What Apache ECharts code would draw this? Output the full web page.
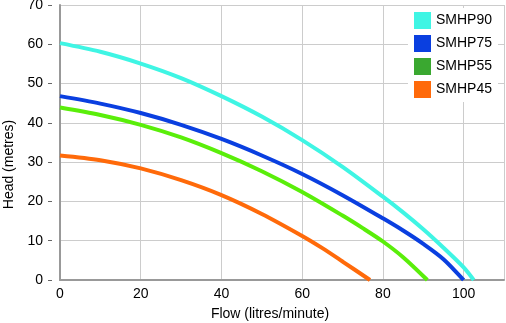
<!DOCTYPE html>
<html><head><meta charset="utf-8">
<script src="https://cdn.jsdelivr.net/npm/echarts@6/dist/echarts.min.js"></script>
<style>html,body{margin:0;padding:0;background:#fff}#c{width:506px;height:323px}</style>
</head><body><div id="c"></div>
<script>
const seriesNames = ['SMHP90','SMHP75','SMHP55','SMHP45'];
const colors = ['#3ff5e4','#0a3fe0','#5aee0a','#ff6a0a'];
const legendColors = ['#3ff5e4','#0a3fe0','#3aa830','#ff6a0a'];
const smhp90 = [[0,60.3],[10,58.1],[20,55.1],[30,51.4],[40,46.8],[50,41.6],[60,35.6],[70,28.8],[80,21.2],[85,17.2],[90,12.9],[95,8.2],[100,3.2],[102.5,0]];
const smhp75 = [[0,46.8],[10,44.9],[20,42.5],[30,39.5],[40,35.9],[50,31.7],[60,27.0],[70,21.6],[80,15.7],[85,12.6],[90,9.2],[95,5.3],[100,0]];
const smhp55 = [[0,43.9],[10,42.0],[20,39.5],[30,36.3],[40,32.3],[50,27.7],[60,22.4],[70,16.4],[75,13.2],[80,9.8],[85,5.8],[91,0]];
const smhp45 = [[0,31.7],[10,30.5],[20,28.4],[30,25.4],[40,21.6],[50,16.8],[60,11.2],[65,8.1],[70,4.7],[76.8,0]];
const allData = [smhp90, smhp75, smhp55, smhp45];
const font = 'Liberation Sans, Arial, Helvetica, sans-serif';
const chart = echarts.init(document.getElementById('c'), null, {renderer:'canvas'});
chart.setOption({
  animation:false,
  backgroundColor:'#fff',
  grid:{left:60,right:2,top:5,bottom:43,containLabel:false,outerBoundsMode:'none'},
  legend:{
    orient:'vertical', right:8, top:8, itemWidth:17, itemHeight:17, itemGap:6,
    backgroundColor:'#fff', padding:[4,6,4,6],
    textStyle:{fontFamily:font,fontSize:14,color:'#000'},
    data: seriesNames.map((n,i)=>({name:n,icon:'rect',itemStyle:{color:legendColors[i]}}))
  },
  xAxis:{
    type:'value', min:0, max:110, interval:20,
    name:'Flow (litres/minute)', nameLocation:'middle', nameGap:27,
    nameTextStyle:{fontFamily:font,fontSize:14,color:'#000',padding:[0,24,0,0]},
    axisLine:{show:true,lineStyle:{color:'#999',width:2}},
    axisTick:{show:false},
    axisLabel:{fontFamily:font,fontSize:14,color:'#000',margin:7,showMaxLabel:false},
    splitLine:{show:true,lineStyle:{color:'#ccc',width:1}}
  },
  yAxis:[{
    type:'value', min:0, max:70, interval:10,
    axisLine:{show:true,lineStyle:{color:'#999',width:2}},
    axisTick:{show:false}, axisLabel:{show:false},
    splitLine:{show:true,lineStyle:{color:'#ccc',width:1}}
  },{
    type:'value', min:0, max:70, interval:10, position:'left', offset:8,
    name:'Head (metres)', nameLocation:'middle', nameGap:36, nameRotate:90,
    nameTextStyle:{fontFamily:font,fontSize:14,color:'#000',padding:[0,0,0,-44]},
    axisLine:{show:false},
    axisTick:{show:true,length:4,lineStyle:{color:'#666'}},
    axisLabel:{fontFamily:font,fontSize:14,color:'#000',margin:9},
    splitLine:{show:false}
  }],
  series: allData.map((d,i)=>({
    name:seriesNames[i], type:'line', data:d, smooth:0.3, showSymbol:false,
    yAxisIndex:0, color:colors[i],
    lineStyle:{width:4,color:colors[i]}, z:10-i
  }))
});
</script></body></html>
